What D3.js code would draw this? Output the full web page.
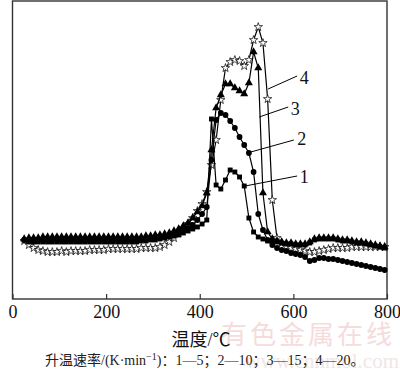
<!DOCTYPE html>
<html>
<head>
<meta charset="utf-8">
<script src="https://cdn.jsdelivr.net/npm/d3@7"></script>
<style>
  html, body { margin: 0; padding: 0; background: #fff; }
  svg { display: block; }
</style>
</head>
<body>
<div id="chart"></div>
<script>
// temperature (°C) of each sample
const temps = [25, 35, 45, 55, 65, 75, 85, 95, 105, 115,
  125, 135, 145, 155, 165, 175, 185, 195, 205, 215,
  225, 235, 245, 255, 265, 275, 285, 295, 305, 315,
  325, 335, 345, 355, 365, 375, 385, 395, 405, 415,
  425, 435, 445, 455, 465, 475, 485, 495, 505, 515,
  525, 535, 545, 555, 565, 575, 585, 595, 605, 615,
  625, 635, 645, 655, 665, 675, 685, 695, 705, 715,
  725, 735, 745, 755, 765, 775, 785, 795];

// DTA signal (arbitrary units), one list per heating rate
const rate5 = [59, 57, 57, 57, 57, 57, 57, 57, 57, 57,
  57, 57, 57, 57, 57, 57, 57, 57, 57, 57,
  57, 57, 57, 57, 57, 58, 58, 59, 59, 60,
  61, 62, 63, 64, 66, 68, 70, 72, 75, 79,
  180, 114, 110, 119, 129, 127, 122, 113, 81, 67,
  62, 60, 58, 57, 57, 56, 55, 55, 54, 54,
  54, 56, 59, 60, 60, 60, 60, 59, 58, 58,
  57, 56, 56, 55, 54, 53, 52, 51];
const rate10 = [59, 59, 59, 59, 59, 59, 59, 59, 59, 59,
  59, 59, 59, 59, 59, 59, 59, 59, 59, 59,
  59, 59, 59, 59, 59, 59, 60, 60, 61, 61,
  62, 63, 65, 67, 69, 71, 74, 79, 85, 92,
  139, 179, 186, 184, 178, 171, 162, 154, 146, 127,
  85, 69, 59, 54, 51, 49, 48, 46, 45, 44,
  42, 38, 39, 41, 41, 40, 40, 39, 38, 37,
  36, 35, 34, 33, 32, 31, 30, 29];
const rate15 = [60, 61, 61, 61, 62, 62, 62, 62, 62, 62,
  62, 62, 62, 62, 62, 62, 62, 62, 62, 62,
  62, 62, 62, 62, 62, 62, 63, 63, 64, 64,
  65, 66, 68, 70, 73, 76, 81, 87, 93, 106,
  149, 191, 204, 215, 215, 211, 208, 205, 216, 247,
  231, 106, 67, 60, 58, 57, 56, 56, 55, 55,
  55, 57, 60, 61, 61, 61, 61, 60, 59, 59,
  58, 57, 57, 56, 55, 54, 53, 52];
const rate20 = [58, 54, 51, 49, 48, 47, 47, 47, 48, 47,
  48, 48, 48, 48, 49, 49, 49, 49, 50, 50,
  50, 50, 50, 50, 50, 51, 51, 51, 51, 52,
  54, 57, 61, 66, 71, 75, 81, 88, 95, 107,
  134, 159, 199, 231, 237, 239, 238, 233, 239, 259,
  272, 256, 200, 99, 61, 56, 52, 51, 50, 49,
  48, 47, 47, 48, 49, 50, 51, 51, 51, 51,
  52, 52, 52, 52, 52, 52, 52, 52];

const seriesLabels = ['1', '2', '3', '4'];
const xTicks = [0, 200, 400, 600, 800];
const xTitle = '温度/℃';

// label leader lines: [series, fromT, fromV, toT, toV, textT, textV]
const callouts = [
  [3, 546, 210, 608, 223, 623, 221],
  [2, 527, 182, 589, 192, 604, 190],
  [1, 509, 147, 601, 159, 618, 160],
  [0, 497, 113, 608, 123, 623, 122]
];

const width = 400, height = 372;
const serif = "'Liberation Serif', 'Times New Roman', 'Noto Sans CJK SC', serif";

const svg = d3.select('#chart').append('svg')
  .attr('width', width)
  .attr('height', height);

const x = d3.scaleLinear().domain([0, 800]).range([12.5, 387]);
const y = d3.scaleLinear().domain([0, 298]).range([299, 1]);

// watermark
svg.append('text')
  .attr('x', 221).attr('y', 344)
  .attr('font-family', "'Noto Sans CJK SC', sans-serif")
  .attr('font-size', 26)
  .attr('letter-spacing', 3)
  .attr('fill', '#f5dcdc')
  .text('有色金属在线');
svg.append('text')
  .attr('x', 399).attr('y', 368)
  .attr('text-anchor', 'end')
  .attr('font-family', serif)
  .attr('font-size', 21)
  .attr('fill', '#f1e6e6')
  .text('www.cnnmol.com');

// x axis, ticks pointing inward
const xAxis = svg.append('g')
  .attr('transform', `translate(0,${y(0)})`)
  .call(d3.axisBottom(x).tickValues(xTicks).tickSizeInner(-5).tickSizeOuter(0).tickPadding(6));
xAxis.select('.domain').remove();
xAxis.selectAll('line').attr('stroke', '#333').attr('stroke-width', 1.2);
xAxis.selectAll('text')
  .attr('font-family', serif)
  .attr('font-size', 18)
  .attr('fill', '#111');

svg.append('rect')
  .attr('x', x(0)).attr('y', y(298))
  .attr('width', x(800) - x(0))
  .attr('height', y(0) - y(298))
  .attr('fill', 'none')
  .attr('stroke', '#333')
  .attr('stroke-width', 1.4);

const series = [
  { values: rate20, symbol: d3.symbolStar, size: 22, fill: '#fff', sw: 0.7 },
  { values: rate15, symbol: d3.symbolTriangle, size: 28, fill: '#000', sw: 0 },
  { values: rate10, symbol: d3.symbolCircle, size: 26, fill: '#000', sw: 0 },
  { values: rate5, symbol: d3.symbolSquare, size: 24, fill: '#000', sw: 0 }
];

const line = d3.line()
  .x((d, i) => x(temps[i]))
  .y(d => y(d));

series.forEach(s => {
  const g = svg.append('g');
  g.append('path')
    .datum(s.values)
    .attr('d', line)
    .attr('fill', 'none')
    .attr('stroke', '#000')
    .attr('stroke-width', 1.2);
  g.selectAll('path.pt')
    .data(s.values)
    .enter().append('path')
    .attr('class', 'pt')
    .attr('transform', (d, i) => `translate(${x(temps[i])},${y(d)})`)
    .attr('d', d3.symbol().type(s.symbol).size(s.size))
    .attr('fill', s.fill)
    .attr('stroke', '#000')
    .attr('stroke-width', s.sw);
});

// curve labels
callouts.forEach(c => {
  svg.append('line')
    .attr('x1', x(c[1])).attr('y1', y(c[2]))
    .attr('x2', x(c[3])).attr('y2', y(c[4]))
    .attr('stroke', '#000')
    .attr('stroke-width', 1);
  svg.append('text')
    .attr('x', x(c[5])).attr('y', y(c[6]))
    .attr('dy', '0.35em')
    .attr('text-anchor', 'middle')
    .attr('font-family', serif)
    .attr('font-size', 18)
    .attr('fill', '#111')
    .text(seriesLabels[c[0]]);
});

// axis title
svg.append('text')
  .attr('x', 201).attr('y', 346)
  .attr('text-anchor', 'middle')
  .attr('font-family', serif)
  .attr('font-size', 18)
  .attr('fill', '#111')
  .text(xTitle);

// caption
const cap = svg.append('text')
  .attr('x', 45).attr('y', 365)
  .attr('font-family', serif)
  .attr('font-size', 14)
  .attr('fill', '#222');
cap.append('tspan').text('升温速率/(K·min');
cap.append('tspan').attr('dy', -5).attr('font-size', 10).text('−1');
cap.append('tspan').attr('dy', 5).text(')：1—5；2—10；3—15；4—20。');
</script>
</body>
</html>
